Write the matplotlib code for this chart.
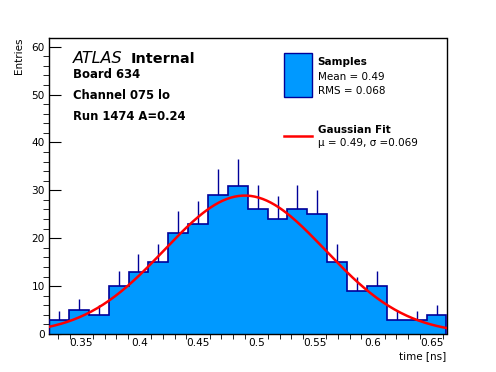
import numpy as np
import matplotlib.pyplot as plt
from matplotlib.ticker import MultipleLocator

plt.rcParams["font.family"] = ["DejaVu Sans"]

# histogram of sample times (20 bins)
x_min, x_max = 0.3222, 0.6629
counts = [3, 5, 4, 10, 13, 15, 21, 23, 29, 31, 26, 24, 26, 25, 15, 9, 10, 3, 3, 4]

# gaussian fit parameters
fit_amp = 28.9
fit_mu = 0.49
fit_sigma = 0.069

fill_color = "#0099ff"
line_color = "#000099"

counts = np.array(counts, dtype=float)
edges = np.linspace(x_min, x_max, len(counts) + 1)
centers = 0.5 * (edges[:-1] + edges[1:])
errs = np.sqrt(counts)

fig = plt.figure(figsize=(4.96, 3.72), dpi=100)
ax = fig.add_axes([49 / 496, 1 - 334 / 372, (446.5 - 49) / 496, (334 - 37.5) / 372])

ax.vlines(centers, counts - errs, counts + errs, color=line_color, lw=1, zorder=1)
ax.stairs(counts, edges, fill=True, color=fill_color, zorder=2)
ax.stairs(counts, edges, fill=False, color=line_color, lw=1.2, zorder=3)

xs = np.linspace(x_min, x_max, 200)
ax.plot(xs, fit_amp * np.exp(-0.5 * ((xs - fit_mu) / fit_sigma) ** 2), color="red", lw=1.8, zorder=4)

ax.set_xlim(x_min, x_max)
ax.set_ylim(0, 61.9)
ax.xaxis.set_major_locator(MultipleLocator(0.05))
ax.xaxis.set_minor_locator(MultipleLocator(0.01))
ax.yaxis.set_major_locator(MultipleLocator(10))
ax.yaxis.set_minor_locator(MultipleLocator(2))
ax.set_xticks([0.35, 0.4, 0.45, 0.5, 0.55, 0.6, 0.65])
ax.set_xticklabels(["0.35", "0.4", "0.45", "0.5", "0.55", "0.6", "0.65"])
ax.tick_params(direction="in", labelsize=7.6, top=False, right=False)
ax.tick_params(axis="y", which="major", length=8.6, pad=3)
ax.tick_params(axis="y", which="minor", length=4.3)
ax.tick_params(axis="x", which="major", length=6.5, pad=3)
ax.tick_params(axis="x", which="minor", length=3.3)
for s in ax.spines.values():
    s.set_linewidth(1)

fig.text(19 / 496, 1 - 37 / 372, "Entries", rotation=90, ha="center", va="top", fontsize=7.5)
fig.text(446 / 496, 1 - 356 / 372, "time [ns]", ha="right", va="center", fontsize=7.5)

# labels
W, H = 496, 372
fig.text(73 / W, 1 - 63.3 / H, "ATLAS", style="italic", fontsize=11.5, va="baseline")
fig.text(131 / W, 1 - 63.3 / H, "Internal", weight="bold", fontsize=10.4, va="baseline")
for y, s in [(78, "Board 634"), (99.3, "Channel 075 lo"), (120.3, "Run 1474 A=0.24")]:
    fig.text(73 / W, 1 - y / H, s, weight="bold", fontsize=8.4, va="baseline")

# legend
box = plt.Rectangle((283.5 / W, 1 - 96.7 / H), 28 / W, 43.4 / H, transform=fig.transFigure,
                    facecolor=fill_color, edgecolor=line_color, lw=1)
fig.add_artist(box)
fig.text(317.5 / W, 1 - 65 / H, "Samples", weight="bold", fontsize=7.5, va="baseline")
fig.text(317.5 / W, 1 - 80 / H, "Mean = 0.49", fontsize=7.5, va="baseline")
fig.text(317.5 / W, 1 - 94 / H, "RMS = 0.068", fontsize=7.5, va="baseline")
fig.add_artist(plt.Line2D([283.5 / W, 311.5 / W], [1 - 136 / H, 1 - 136 / H],
                          transform=fig.transFigure, color="red", lw=1.8))
fig.text(317.5 / W, 1 - 132.7 / H, "Gaussian Fit", weight="bold", fontsize=7.5, va="baseline")
fig.text(317.5 / W, 1 - 145.5 / H, "μ = 0.49, σ =0.069", fontsize=7.5, va="baseline")

fig.savefig("out.png", dpi=100)
